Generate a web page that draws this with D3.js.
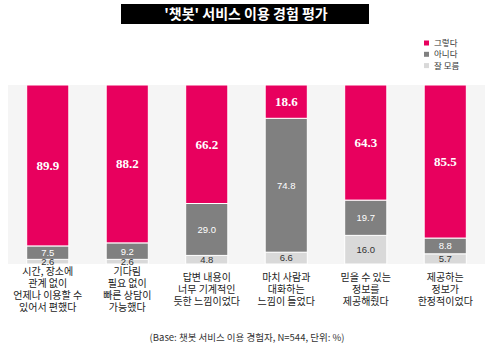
<!DOCTYPE html>
<html><head><meta charset="utf-8">
<script src="https://cdn.jsdelivr.net/npm/d3@7"></script>
<style>body{margin:0;background:#fff;}svg{display:block;}</style>
</head><body>
<svg id="chart" width="494" height="355"></svg>
<script>
const title = "'챗봇' 서비스 이용 경험 평가";
const footnote = "(Base: 챗봇 서비스 이용 경험자, N=544, 단위: %)";
const categories = [
  ["시간, 장소에","관계 없이","언제나 이용할 수","있어서 편했다"],
  ["기다림","필요 없이","빠른 상담이","가능했다"],
  ["답변 내용이","너무 기계적인","듯한 느낌이었다"],
  ["마치 사람과","대화하는","느낌이 들었다"],
  ["믿을 수 있는","정보를","제공해줬다"],
  ["제공하는","정보가","한정적이었다"]
];
const seriesNames = ["그렇다","아니다","잘 모름"];
const yesVals = [89.9, 88.2, 66.2, 18.6, 64.3, 85.5];
const noVals = [7.5, 9.2, 29.0, 74.8, 19.7, 8.8];
const dkVals = [2.6, 2.6, 4.8, 6.6, 16.0, 5.7];
const colors = {"그렇다":"#e8005e","아니다":"#808080","잘 모름":"#d9d9d9"};

const svg = d3.select("#chart");
const KR = "'Noto Sans CJK KR', sans-serif";

// title
const tg = svg.append("g");
tg.append("rect").attr("x",121).attr("y",4).attr("width",248).attr("height",20).attr("fill","#000");
tg.append("text").attr("x",246).attr("y",19).attr("text-anchor","middle")
  .attr("fill","#fff").attr("font-family",KR).attr("font-weight","bold").attr("font-size",14).text(title);

// legend
const lg = svg.append("g").attr("transform","translate(424,43)");
seriesNames.forEach((s,i)=>{
  const r = lg.append("g").attr("transform",`translate(0,${i*11.3})`);
  r.append("rect").attr("x",0).attr("y",-2.5).attr("width",5).attr("height",5).attr("fill",colors[s]);
  r.append("text").attr("x",10).attr("y",3).attr("font-family",KR)
    .attr("font-size",8.5).attr("fill","#333").text(s);
});

const data = categories.map((c,i)=>({i, "그렇다":yesVals[i], "아니다":noVals[i], "잘 모름":dkVals[i]}));
const x = d3.scaleBand().domain(d3.range(categories.length)).range([8,485]).paddingInner(0.47).paddingOuter(0.235);
const y = d3.scaleLinear().domain([0,100]).range([264,85]);

svg.append("rect").attr("x",8).attr("y",y(100)).attr("width",477).attr("height",y(0)-y(100)).attr("fill","#f5f5f5");

const stack = d3.stack().keys(["잘 모름","아니다","그렇다"])(data);
const layers = svg.append("g").selectAll("g").data(stack).join("g").attr("fill",d=>colors[d.key]);
layers.selectAll("rect").data(d=>d).join("rect")
  .attr("x",d=>x(d.data.i)).attr("width",x.bandwidth())
  .attr("y",d=>y(d[1])).attr("height",d=>y(d[0])-y(d[1]))
  .attr("stroke","#fff").attr("stroke-width",1);

stack.forEach(layer=>{
  const key = layer.key;
  const big = key==="그렇다";
  svg.append("g").selectAll("text").data(layer).join("text")
    .attr("x",d=>x(d.data.i)+x.bandwidth()/2)
    .attr("y",d=>(y(d[0])+y(d[1]))/2 + (big ? 4.5 : 3.4))
    .attr("text-anchor","middle")
    .attr("font-family", big ? "'Liberation Serif', serif" : "'Liberation Sans', sans-serif")
    .attr("font-weight", big ? "bold" : "normal")
    .attr("font-size", big ? 13 : 9.5)
    .attr("fill", key==="잘 모름" ? "#333" : "#fff")
    .text(d=>d.data[key].toFixed(1));
});

// category labels
const cg = svg.append("g");
categories.forEach((lines,i)=>{
  const lh = 12;
  const y0 = 289.5 - (lines.length-1)*lh/2;
  lines.forEach((l,j)=>{
    cg.append("text").attr("text-anchor","middle").attr("font-family",KR).attr("font-size",10).attr("fill","#222")
      .attr("x",x(i)+x.bandwidth()/2).attr("y",y0+j*lh+3.6).text(l);
  });
});

svg.append("text").attr("x",247).attr("y",341).attr("text-anchor","middle")
  .attr("font-family",KR).attr("font-size",9.5).attr("fill","#333").text(footnote);
</script>
</body></html>
